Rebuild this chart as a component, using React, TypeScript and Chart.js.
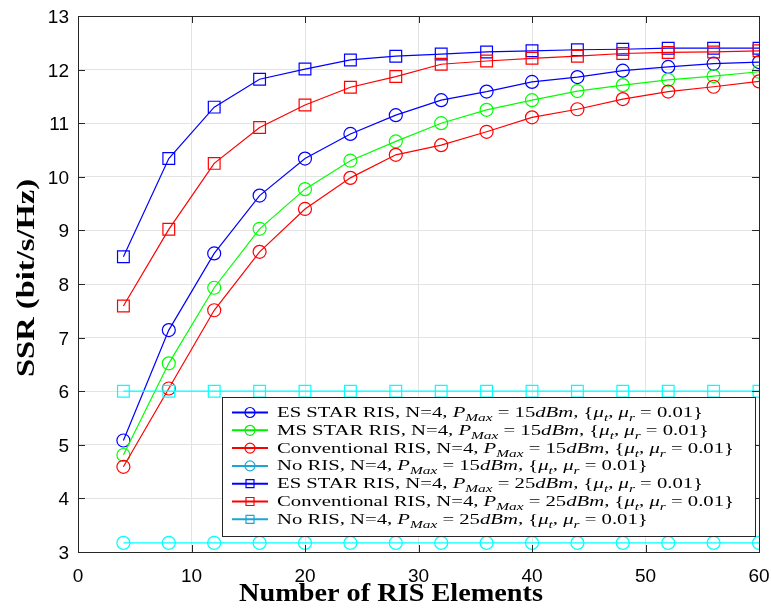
import React, { useEffect, useRef } from "react";
import { Chart, registerables } from "chart.js";

Chart.register(...registerables);

// ---- data ----
const ELEMENTS = [4, 8, 12, 16, 20, 24, 28, 32, 36, 40, 44, 48, 52, 56, 60];
const ES_STAR_15 = [5.08, 7.14, 8.57, 9.65, 10.34, 10.8, 11.15, 11.43, 11.59, 11.77, 11.86, 11.98, 12.05, 12.11, 12.14];
const MS_STAR_15 = [4.81, 6.52, 7.93, 9.03, 9.77, 10.3, 10.66, 11.0, 11.25, 11.43, 11.6, 11.71, 11.81, 11.88, 11.96];
const CONV_15 = [4.59, 6.05, 7.51, 8.6, 9.4, 9.98, 10.41, 10.59, 10.84, 11.11, 11.26, 11.45, 11.59, 11.68, 11.78];
const NO_RIS_15 = [3.17, 3.17, 3.17, 3.17, 3.17, 3.17, 3.17, 3.17, 3.17, 3.17, 3.17, 3.17, 3.17, 3.17, 3.17];
const ES_STAR_25 = [8.51, 10.34, 11.3, 11.82, 12.01, 12.18, 12.25, 12.29, 12.33, 12.35, 12.37, 12.38, 12.4, 12.4, 12.4];
const CONV_25 = [7.59, 9.02, 10.25, 10.92, 11.34, 11.67, 11.87, 12.1, 12.16, 12.21, 12.25, 12.3, 12.32, 12.33, 12.35];
const NO_RIS_25 = [6.0, 6.0, 6.0, 6.0, 6.0, 6.0, 6.0, 6.0, 6.0, 6.0, 6.0, 6.0, 6.0, 6.0, 6.0];

const X_TICKS = [0, 10, 20, 30, 40, 50, 60];
const Y_TICKS = [3, 4, 5, 6, 7, 8, 9, 10, 11, 12, 13];

const LABEL_PREFIX = [
  "ES STAR RIS, N=4, ",
  "MS STAR RIS, N=4, ",
  "Conventional RIS, N=4, ",
  "No RIS, N=4, ",
  "ES STAR RIS, N=4, ",
  "Conventional RIS, N=4, ",
  "No RIS, N=4, ",
];
const LABEL_POWER = ["15", "15", "15", "15", "25", "25", "25"];
const SERIES_DATA = [ES_STAR_15, MS_STAR_15, CONV_15, NO_RIS_15, ES_STAR_25, CONV_25, NO_RIS_25];
const SERIES_COLOR = ["#0000ff", "#00ff00", "#ff0000", "#00ffff", "#0000ff", "#ff0000", "#00ffff"];
const LEGEND_COLOR = ["#0000ff", "#00ee00", "#ff0000", "#1aa6d6", "#0000ff", "#ff0000", "#1aa6d6"];
const SERIES_MARKER = ["circle", "circle", "circle", "circle", "rect", "rect", "rect"];

const X_TITLE = "Number of RIS Elements";
const Y_TITLE = "SSR (bit/s/Hz)";

const SERIF = "'Liberation Serif', 'DejaVu Serif', serif";
const SANS = "'Liberation Sans', Arial, sans-serif";

type Seg = [string, boolean, number, number]; // text, italic, sizeFactor, dy

function legendSegments(prefix: string, power: string): Seg[] {
  return [
    [prefix, false, 1, 0],
    ["P", true, 1, 0],
    ["Max", true, 0.74, 4],
    [" = " + power, false, 1, 0],
    ["dBm", true, 1, 0],
    [", {", false, 1, 0],
    ["\u03bc", true, 1, 0],
    ["t", true, 0.74, 4],
    [", ", false, 1, 0],
    ["\u03bc", true, 1, 0],
    ["r", true, 0.74, 4],
    [" = 0.01}", false, 1, 0],
  ];
}

function segWidth(ctx: CanvasRenderingContext2D, segs: Seg[], base: number) {
  let w = 0;
  for (const [t, it, f] of segs) {
    ctx.font = `${it ? "italic " : ""}${base * f}px ${SERIF}`;
    w += ctx.measureText(t).width;
  }
  return w;
}

const decoPlugin = {
  id: "matlabDeco",
  afterDatasetsDraw(chart: any) {
    const { ctx, chartArea: a, scales } = chart;
    ctx.save();
    ctx.strokeStyle = "#262626";
    ctx.lineWidth = 1;
    const L = 7;
    ctx.beginPath();
    for (const v of X_TICKS) {
      const px = Math.round(scales.x.getPixelForValue(v)) + 0.5;
      ctx.moveTo(px, a.bottom);
      ctx.lineTo(px, a.bottom - L);
      ctx.moveTo(px, a.top);
      ctx.lineTo(px, a.top + L);
    }
    for (const v of Y_TICKS) {
      const py = Math.round(scales.y.getPixelForValue(v)) + 0.5;
      ctx.moveTo(a.left, py);
      ctx.lineTo(a.left + L, py);
      ctx.moveTo(a.right, py);
      ctx.lineTo(a.right - L, py);
    }
    ctx.stroke();
    ctx.strokeRect(Math.round(a.left) + 0.5, Math.round(a.top) + 0.5, Math.round(a.right - a.left), Math.round(a.bottom - a.top));
    ctx.restore();
  },
  afterDraw(chart: any) {
    const { ctx, chartArea: a, scales } = chart;
    ctx.save();
    // ---- tick labels ----
    ctx.fillStyle = "#000";
    ctx.font = `19px ${SANS}`;
    ctx.textBaseline = "alphabetic";
    ctx.textAlign = "center";
    for (const v of X_TICKS) {
      ctx.fillText(String(v), scales.x.getPixelForValue(v), a.bottom + 30);
    }
    ctx.textAlign = "right";
    for (const v of Y_TICKS) {
      ctx.fillText(String(v), a.left - 9, scales.y.getPixelForValue(v) + 7);
    }
    // ---- legend ----
    const boxL = 222.5, boxT = 397.5, boxR = 755.5, boxB = 536.5;
    ctx.fillStyle = "#ffffff";
    ctx.fillRect(boxL, boxT, boxR - boxL, boxB - boxT);
    ctx.strokeStyle = "#262626";
    ctx.lineWidth = 1;
    ctx.strokeRect(boxL, boxT, boxR - boxL, boxB - boxT);
    const base = 14;
    const textX = 277;
    const longest = segWidth(ctx, legendSegments(LABEL_PREFIX[2], "15"), base);
    const sx = Math.max(0.8, Math.min(1.6, 457 / longest));
    for (let i = 0; i < LABEL_PREFIX.length; i++) {
      const yc = 412.5 + i * 17.8;
      ctx.strokeStyle = LEGEND_COLOR[i];
      ctx.lineWidth = 2;
      ctx.beginPath();
      ctx.moveTo(232, yc);
      ctx.lineTo(268, yc);
      ctx.stroke();
      ctx.lineWidth = 1.2;
      ctx.beginPath();
      if (SERIES_MARKER[i] === "circle") {
        ctx.arc(250, yc, 5, 0, Math.PI * 2);
      } else {
        ctx.rect(246, yc - 4, 8, 8);
      }
      ctx.stroke();
      const segs = legendSegments(LABEL_PREFIX[i], LABEL_POWER[i]);
      ctx.save();
      ctx.translate(textX, yc + 4.5);
      ctx.scale(sx, 1);
      ctx.fillStyle = "#000";
      ctx.textBaseline = "alphabetic";
      ctx.textAlign = "left";
      let cx = 0;
      for (const [t, it, f, dy] of segs) {
        ctx.font = `${it ? "italic " : ""}${base * f}px ${SERIF}`;
        ctx.fillText(t, cx, dy);
        cx += ctx.measureText(t).width;
      }
      ctx.restore();
    }
    // ---- axis titles ----
    ctx.fillStyle = "#000";
    ctx.font = `bold 25px ${SERIF}`;
    ctx.textAlign = "center";
    ctx.textBaseline = "alphabetic";
    const xw = ctx.measureText(X_TITLE).width;
    ctx.save();
    ctx.translate(391, 601);
    ctx.scale(304 / xw, 1);
    ctx.fillText(X_TITLE, 0, 0);
    ctx.restore();
    const yw = ctx.measureText(Y_TITLE).width;
    ctx.save();
    ctx.translate(34, 278);
    ctx.rotate(-Math.PI / 2);
    ctx.scale(198 / yw, 1);
    ctx.fillText(Y_TITLE, 0, 0);
    ctx.restore();
    ctx.restore();
  },
};

export default function App() {
  const ref = useRef<HTMLCanvasElement | null>(null);
  useEffect(() => {
    if (!ref.current) return;
    const datasets = SERIES_DATA.map((d, i) => ({
      label: LABEL_PREFIX[i] + LABEL_POWER[i],
      data: ELEMENTS.map((x, j) => ({ x, y: d[j] })),
      borderColor: SERIES_COLOR[i],
      backgroundColor: "rgba(0,0,0,0)",
      borderWidth: 1.2,
      pointStyle: SERIES_MARKER[i],
      pointRadius: SERIES_MARKER[i] === "circle" ? 6.5 : 8.3,
      pointBorderWidth: 1.2,
      pointBorderColor: SERIES_COLOR[i],
      pointBackgroundColor: "rgba(0,0,0,0)",
      fill: false,
      tension: 0,
      order: SERIES_DATA.length - i,
    }));
    const chart = new Chart(ref.current, {
      type: "line",
      data: { datasets },
      plugins: [decoPlugin],
      options: {
        animation: false,
        responsive: false,
        events: [],
        layout: { padding: { top: 16, right: 12, left: 0, bottom: 0 } },
        plugins: { legend: { display: false }, tooltip: { enabled: false }, title: { display: false } },
        scales: {
          x: {
            type: "linear",
            min: 0,
            max: 60,
            afterFit: (s: any) => { s.height = 61; s.paddingLeft = 0; s.paddingRight = 0; },
            afterBuildTicks: (s: any) => { s.ticks = X_TICKS.map((v) => ({ value: v })); },
            ticks: { display: false },
            grid: { color: "#e3e3e3", lineWidth: 1, drawTicks: false },
            border: { display: false },
          },
          y: {
            type: "linear",
            min: 3,
            max: 13,
            afterFit: (s: any) => { s.width = 78; s.paddingTop = 0; s.paddingBottom = 0; },
            afterBuildTicks: (s: any) => { s.ticks = Y_TICKS.map((v) => ({ value: v })); },
            ticks: { display: false },
            grid: { color: "#e3e3e3", lineWidth: 1, drawTicks: false },
            border: { display: false },
          },
        },
      },
    } as any);
    return () => chart.destroy();
  }, []);
  return (
    <div style={{ position: "fixed", left: 0, top: 0, width: 771, height: 613, background: "#fff" }}>
      <canvas ref={ref} width={771} height={613} style={{ display: "block", width: 771, height: 613 }} />
    </div>
  );
}
